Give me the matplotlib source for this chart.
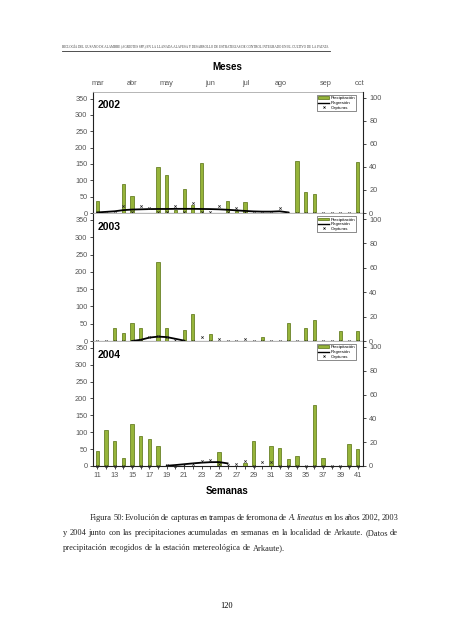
import numpy as np
import matplotlib
matplotlib.use("Agg")
import matplotlib.pyplot as plt
from matplotlib.patches import Patch
from matplotlib.lines import Line2D

W, H = 453, 640

semanas = list(range(11, 42))

# precipitacion semanal acumulada (mm)
precip_2002 = [38, 0, 0, 89, 53, 0, 0, 140, 117, 8, 74, 25, 154, 0, 0, 38,
               5, 34, 0, 0, 0, 0, 0, 159, 63, 58, 0, 0, 0, 0, 157]
precip_2003 = [0, 0, 37, 22, 53, 38, 0, 229, 38, 0, 31, 78, 0, 19, 0, 0,
               0, 0, 0, 12, 0, 0, 51, 0, 37, 61, 0, 0, 30, 0, 28]
precip_2004 = [45, 107, 74, 24, 125, 89, 79, 60, 0, 0, 0, 0, 0, 0, 40, 0,
               0, 10, 75, 0, 59, 53, 20, 30, 0, 181, 25, 0, 0, 64, 49]

# capturas por trampa
cap_2002 = [0, 0, 0, 6, 1, 6, 4, 1, 1, 6, 1, 9, 1, 1, 6, 1,
            4, 1, 0, 0, 0, 4, 0, 0, 0, 0, 0, 0, 0, 0, 0]
cap_2003 = [0, 0, 0, 0, 0, 1, 3, 4, 3, 1, 0, 0, 3, 0, 2, 0,
            0, 2, 0, 0, 0, 0, 0, 0, 0, 0, 0, 0, 0, 0, 0]
cap_2004 = [0, 0, 0, 0, 0, 0, 0, 0, 1, 0, 1, 2, 4, 5, 2, 1,
            2, 4, 0, 3, 3, 0, 0, 0, 0, 0, 0, 0, 0, 0, 0]

# curvas de regresion
reg_sem_2002 = list(range(11, 34))
reg_2002 = [0.5, 1, 1.5, 2.5, 3, 3.2, 3.4, 3.5, 3.5, 3.6, 3.6, 3.6, 3.5,
            3.4, 3.2, 2.8, 2.3, 1.8, 1.4, 1.2, 1.2, 1.5, 0.5]
reg_sem_2003 = [15, 16, 17, 18, 19, 20, 21]
reg_2003 = [0, 1, 2.8, 3.6, 3.2, 1.8, 0.3]
reg_sem_2004 = [19, 20, 21, 22, 23, 24, 25, 26]
reg_2004 = [0.2, 0.8, 1.5, 2.2, 2.8, 3.2, 3.3, 2.2]

meses = ["mar", "abr", "may", "jun", "jul", "ago", "sep", "oct"]
pos_meses = [11, 15, 19, 24, 28.1, 32.1, 37.3, 41.15]

verde = "#96b43a"
borde = "#55700f"
gris = "#555555"

plt.rcParams['font.family'] = ['Liberation Sans', 'DejaVu Sans']

fig = plt.figure(figsize=(W / 100, H / 100), dpi=100)


def fx(px):
    return px / W


def fy(py):
    return 1 - py / H


paneles = [
    ("2002", precip_2002, cap_2002, reg_sem_2002, reg_2002, 92, 213),
    ("2003", precip_2003, cap_2003, reg_sem_2003, reg_2003, 213, 341),
    ("2004", precip_2004, cap_2004, reg_sem_2004, reg_2004, 341, 466),
]

for i, (anio, prec, cap, rs, rv, top, bot) in enumerate(paneles):
    ax = fig.add_axes([fx(93), fy(bot), fx(363) - fx(93), (bot - top) / H])
    ax.bar(semanas, prec, width=0.38, color=verde, edgecolor=borde, lw=0.5, zorder=2)
    ax.set_xlim(10.5, 41.6)
    ax.set_ylim(0, 370)
    ax.set_yticks(range(0, 351, 50))
    ax.set_xticks(semanas)
    if i == 2:
        ax.set_xticklabels([str(s) if s % 2 else "" for s in semanas])
    else:
        ax.set_xticklabels([])
    ax.tick_params(axis='both', labelsize=5.3, labelcolor=gris, length=2,
                   width=0.5, pad=2)
    for s in ["left", "bottom"]:
        ax.spines[s].set_linewidth(0.8)
        ax.spines[s].set_color("#222222")
    ax.spines["top"].set_color("#aaaaaa")
    ax.spines["top"].set_linewidth(0.6)
    ax.spines["right"].set_visible(False)
    ax.text(0.016, 0.93, anio, transform=ax.transAxes, fontsize=7.5,
            fontweight='bold', va='top', ha='left')

    ax2 = ax.twinx()
    ax2.set_ylim(0, 105)
    ax2.set_yticks(range(0, 101, 20))
    ax2.plot(rs, rv, color='black', lw=1.3, zorder=3)
    ax2.plot(semanas, cap, ls='none', marker='x', ms=1.7, mew=0.5,
             color='#222222', zorder=4, clip_on=False)
    ax2.tick_params(axis='y', labelsize=5.3, labelcolor=gris, length=2.5,
                    width=0.5, pad=2)
    ax2.spines["right"].set_linewidth(0.8)
    ax2.spines["right"].set_color("#222222")
    for s in ["top", "left", "bottom"]:
        ax2.spines[s].set_visible(False)

    handles = [Patch(facecolor=verde, edgecolor=borde, lw=0.5),
               Line2D([], [], color='black', lw=1.0),
               Line2D([], [], ls='none', marker='x', ms=1.5, mew=0.5, color='black')]
    leg = ax2.legend(handles, ["Precipitación", "Regresión", "Capturas"],
                     loc='upper right', bbox_to_anchor=(0.975, 0.975),
                     fontsize=3.2, frameon=True, fancybox=False,
                     borderpad=0.3, labelspacing=0.15, handlelength=2.6,
                     handleheight=0.6, handletextpad=0.2, borderaxespad=0)
    leg.get_frame().set_edgecolor('black')
    leg.get_frame().set_linewidth(0.4)

    if i == 0:
        for m, p in zip(meses, pos_meses):
            ax.text(p, 1.07, m, transform=ax.get_xaxis_transform(),
                    fontsize=5.3, color=gris, ha='center', va='center')

fig.text(fx(227), fy(67), "Meses", fontsize=7, fontweight='bold',
         ha='center', va='center')
fig.text(fx(227), fy(491), "Semanas", fontsize=7, fontweight='bold',
         ha='center', va='center')

r = fig.canvas.get_renderer()

# cabecera
cab = ("BIOLOGÍA DEL GUSANO DE ALAMBRE (AGRIOTES SPP.) EN LA LLANADA ALAVESA "
       "Y DESARROLLO DE ESTRATEGIAS DE CONTROL INTEGRADO EN EL CULTIVO DE LA PATATA")
t = fig.text(fx(62), fy(48), cab, fontsize=10, family='Liberation Serif',
             ha='left', va='baseline', color='#333333')
ancho = t.get_window_extent(r).width
t.set_fontsize(10 * 268 / ancho)
fig.add_artist(Line2D([fx(62), fx(330)], [fy(50.6), fy(50.6)],
                      color='#333333', lw=0.6))

# tamano del pie ajustado al ancho de la segunda linea
l2_txt = ("y 2004 junto con las precipitaciones acumuladas en semanas en la "
          "localidad de Arkaute. (Datos de")
tt = fig.text(0, 0, l2_txt, fontsize=10, family='Liberation Serif')
pie = 10 * 330 / tt.get_window_extent(r).width
tt.remove()


def linea(palabras, x0, x1, y, size, justificar=True):
    objs = [fig.text(0, fy(y), w, fontsize=size, family='Liberation Serif',
                     style=s, va='baseline', ha='left', color='#222222')
            for w, s in palabras]
    anchos = [o.get_window_extent(r).width for o in objs]
    esp = size * 0.25 * 100 / 72
    if justificar:
        esp = (x1 - x0 - sum(anchos)) / (len(objs) - 1)
    x = x0
    for o, a in zip(objs, anchos):
        o.set_x(fx(x))
        x += a + esp


def palabras(txt, estilo='normal'):
    return [(w, estilo) for w in txt.split()]


l1 = (palabras("Figura 50: Evolución de capturas en trampas de feromona de")
      + palabras("A. lineatus", 'italic') + palabras("en los años 2002, 2003"))
l2 = palabras(l2_txt)
l3 = palabras("precipitación recogidos de la estación  metereológica de Arkaute).")
linea(l1, 90, 398, 520, pie)
linea(l2, 63, 398, 535, pie)
linea(l3, 63, 398, 550, pie, justificar=False)

fig.text(fx(227), fy(608), "120", fontsize=pie, family='Liberation Serif',
         ha='center', va='baseline')

fig.savefig("out.png", dpi=100)
